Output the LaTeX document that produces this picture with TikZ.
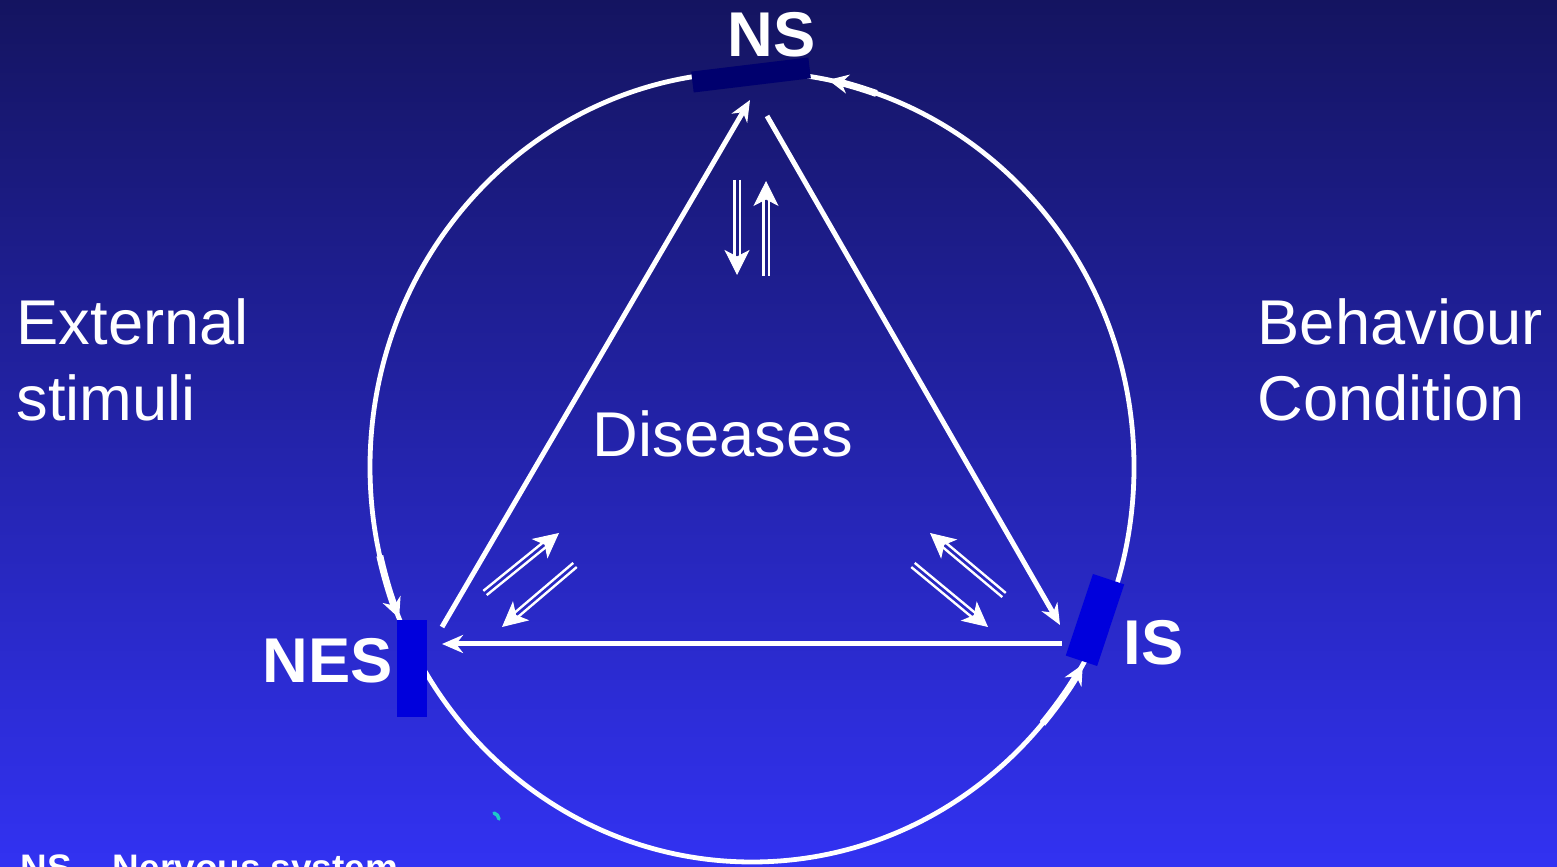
\documentclass[tikz,border=0pt]{standalone}
\usepackage{fontspec}
\setmainfont{Liberation Sans}
\usetikzlibrary{calc,arrows.meta}
\definecolor{bgtop}{HTML}{141460}
\definecolor{bgbot}{HTML}{3232F2}
\definecolor{nsbar}{HTML}{00006E}
\definecolor{sysbar}{HTML}{0000DC}
\definecolor{ctick}{HTML}{1EC8C8}
\tikzstyle{bgshading}=[top color=bgtop, bottom color=bgbot]
\tikzset{
	every picture/.style={font=\fontsize{18}{18}\selectfont,},
	anno/.style={white, inner sep=0,},
	sys/.style={white, inner sep=0, font=\fontsize{18}{18}\selectfont\bfseries,},
	lw/.style={line width=0.048cm,},
	%%%
	ring/.style={white, lw},
	bar/.style={draw=none, inner sep=0,},
	edge/.style={white, line width=0.05cm, -{Stealth[length=0.21cm, width=0.18cm]}},
	ringarrow/.style={white, line width=0.07cm, -{Stealth[length=0.2cm, width=0.19cm]}},
	%%%
	dbl/.style={white, line width=0.024cm, shorten >=0.17cm},
	dbltip/.style={white, line width=0.01cm, -{Stealth[length=0.25cm, width=0.25cm, inset=0.065cm]}},
	ctickline/.style={ctick, line width=0.035cm, line cap=round},
}
\gdef\cx{7.52}
\gdef\cy{4.00}
\gdef\rx{3.82}
\gdef\ry{3.95}
\gdef\off{0.027cm}
\newcommand\dblarrow[2]{%
	\draw[dbl] ($(#1)!\off!90:(#2)$) -- ($(#2)!\off!-90:(#1)$);
	\draw[dbl] ($(#1)!\off!-90:(#2)$) -- ($(#2)!\off!90:(#1)$);
	\draw[dbltip] ($(#2)!0.15cm!(#1)$) -- (#2);
}

\begin{document}
\begin{tikzpicture}[]

	%%% Background

	\fill[bgshading] (0,0) rectangle (15.57,8.67);
	\useasboundingbox (0,0) rectangle (15.57,8.67);

	%%% Ring

	\draw[ring] (\cx,\cy) ellipse [x radius=\rx, y radius=\ry];

	\draw[ringarrow] ({\cx+\rx*cos(71)},{\cy+\ry*sin(71)}) arc[start angle=71, end angle=78.5, x radius=\rx, y radius=\ry];
	\draw[ringarrow] ({\cx+\rx*cos(193)},{\cy+\ry*sin(193)}) arc[start angle=193, end angle=202.5, x radius=\rx, y radius=\ry];
	\draw[ringarrow] ({\cx+\rx*cos(-40.5)},{\cy+\ry*sin(-40.5)}) arc[start angle=-40.5, end angle=-30, x radius=\rx, y radius=\ry];

	%%% Bars, labels

	\node[bar, fill=nsbar, minimum width=1.18cm, minimum height=0.21cm, rotate=6.9] (nsbar) at (7.51,7.92) {};
	\node[bar, fill=sysbar, minimum width=0.30cm, minimum height=0.97cm] (nesbar) at (4.12,1.985) {};
	\node[bar, fill=sysbar, minimum width=0.86cm, minimum height=0.33cm, rotate=71.6] (isbar) at (10.95,2.47) {};

	\node[sys, anchor=base west] (ns) at (7.27,8.10) {NS};
	\node[sys, anchor=base west] (nes) at (2.62,1.84) {NES};
	\node[sys, anchor=base west] (is) at (11.23,2.02) {IS};

	%%% Triangle

	\coordinate (nsA) at (7.50,7.67);
	\coordinate (nsB) at (7.67,7.51);
	\coordinate (isA) at (10.60,2.42);
	\coordinate (isB) at (10.62,2.23);
	\coordinate (nesA) at (4.42,2.23);
	\coordinate (nesB) at (4.42,2.40);

	\draw[edge] (nesB) -- (nsA);
	\draw[edge] (nsB) -- (isA);
	\draw[edge] (isB) -- (nesA);

	%%% Double arrows

	\coordinate (d1a) at (7.37,6.87);  \coordinate (d1b) at (7.37,5.92);
	\coordinate (d2a) at (7.66,5.91);  \coordinate (d2b) at (7.66,6.86);
	\coordinate (d3a) at (4.85,2.74);  \coordinate (d3b) at (5.59,3.34);
	\coordinate (d4a) at (5.75,3.02);  \coordinate (d4b) at (5.02,2.40);
	\coordinate (d5a) at (10.04,2.72); \coordinate (d5b) at (9.30,3.34);
	\coordinate (d6a) at (9.13,3.02);  \coordinate (d6b) at (9.88,2.40);

	\dblarrow{d1a}{d1b}
	\dblarrow{d2a}{d2b}
	\dblarrow{d3a}{d3b}
	\dblarrow{d4a}{d4b}
	\dblarrow{d5a}{d5b}
	\dblarrow{d6a}{d6b}

	%%% Texts

	\node[anno, anchor=base west] (ext1) at (0.16,5.22) {External};
	\node[anno, anchor=base west] (ext2) at (0.16,4.46) {stimuli};
	\node[anno, anchor=base west] (beh1) at (12.57,5.22) {Behaviour};
	\node[anno, anchor=base west] (beh2) at (12.57,4.46) {Condition};
	\node[anno, anchor=base west] (dis) at (5.92,4.10) {Diseases};

	\node[anno, anchor=base west, font=\fontsize{10.5}{10.5}\selectfont\bfseries] (legend) at (0.20,-0.14) {NS – Nervous system};

	\draw[ctickline] (4.94,0.54) to[bend left=30] (4.99,0.48);

\end{tikzpicture}
\end{document}
